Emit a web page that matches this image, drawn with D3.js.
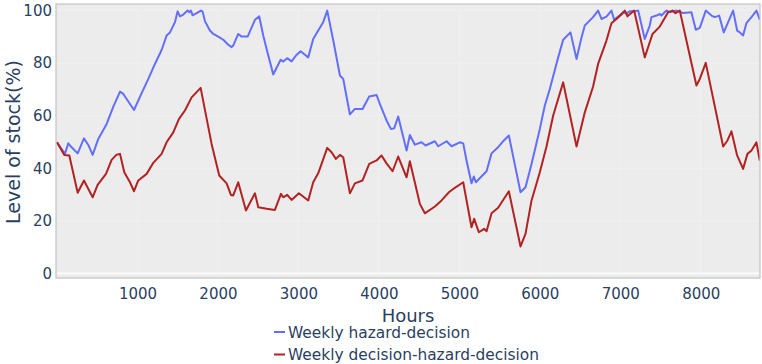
<!DOCTYPE html>
<html>
<head>
<meta charset="utf-8">
<script src="https://cdn.jsdelivr.net/npm/d3@7"></script>
<style>
  html, body { margin: 0; padding: 0; background: #ffffff; }
  svg { display: block; font-family: "DejaVu Sans", Verdana, sans-serif; }
</style>
</head>
<body>
<svg id="chart" width="762" height="364"></svg>
<script>
// ---------- data ----------
const seriesNames = ["Weekly hazard-decision", "Weekly decision-hazard-decision"];
const seriesColors = ["#636efa", "#b22222"];

const hazardHours = [0, 99, 140, 182, 257, 335, 389, 443, 513, 617, 700, 783, 824, 957, 1052, 1135, 1217, 1300, 1362, 1404, 1466, 1499, 1528, 1569, 1623, 1644, 1665, 1685, 1735, 1789, 1810, 1838, 1900, 1942, 2004, 2066, 2128, 2170, 2190, 2252, 2294, 2369, 2460, 2513, 2563, 2605, 2687, 2779, 2811, 2861, 2915, 2969, 3027, 3122, 3184, 3246, 3308, 3358, 3433, 3516, 3557, 3640, 3702, 3797, 3880, 3971, 4012, 4095, 4149, 4190, 4240, 4344, 4385, 4447, 4530, 4580, 4696, 4737, 4841, 4903, 5006, 5048, 5089, 5151, 5180, 5205, 5338, 5400, 5474, 5532, 5615, 5760, 5822, 5897, 6000, 6062, 6124, 6228, 6290, 6381, 6456, 6518, 6559, 6600, 6662, 6724, 6766, 6828, 6890, 6923, 6973, 7035, 7077, 7118, 7180, 7222, 7304, 7366, 7387, 7450, 7491, 7511, 7574, 7615, 7698, 7781, 7884, 7938, 7988, 8062, 8133, 8174, 8228, 8286, 8340, 8402, 8452, 8485, 8526, 8567, 8630, 8692, 8733];
const hazardValues = [49.9, 45.5, 49.5, 48.0, 45.7, 51.4, 48.9, 45.1, 51.2, 56.9, 63.5, 69.2, 68.3, 62.2, 68.6, 74.0, 79.7, 85.0, 90.5, 91.7, 95.6, 99.7, 97.8, 98.5, 100, 99.4, 100, 98.2, 99.0, 100, 99.6, 96.0, 92.4, 91.1, 90.1, 88.9, 87.0, 86.1, 86.7, 91.1, 90.1, 90.1, 96.5, 97.8, 90.5, 85.4, 75.7, 81.3, 80.6, 81.9, 80.7, 82.9, 84.5, 82.2, 89.2, 92.4, 95.6, 100, 88.6, 75.3, 74.0, 60.5, 62.6, 62.6, 67.3, 67.9, 64.5, 58.2, 55.0, 55.2, 59.7, 46.8, 52.7, 49.0, 49.9, 48.7, 50.3, 48.4, 50.3, 48.4, 49.9, 49.5, 43.0, 34.3, 36.9, 34.7, 38.9, 45.7, 47.8, 49.9, 52.5, 30.9, 32.8, 41.7, 55.0, 63.9, 70.2, 82.2, 88.9, 91.7, 81.6, 89.8, 94.3, 95.6, 97.5, 100, 96.8, 97.7, 100, 96.5, 97.7, 99.4, 98.9, 99.7, 99.7, 100, 89.2, 94.3, 97.5, 98.1, 98.7, 98.1, 100, 99.4, 100, 99.1, 99.4, 92.7, 93.4, 100, 98.1, 97.5, 98.1, 91.7, 95.6, 100, 92.4, 91.7, 90.5, 95.2, 97.5, 100, 96.5];

const dhdHours = [0, 91, 153, 257, 335, 443, 505, 609, 679, 741, 783, 836, 907, 957, 1010, 1114, 1197, 1300, 1362, 1445, 1516, 1590, 1673, 1785, 1921, 2016, 2108, 2161, 2190, 2252, 2348, 2460, 2501, 2605, 2708, 2783, 2811, 2861, 2915, 3006, 3122, 3184, 3246, 3358, 3412, 3466, 3516, 3557, 3640, 3702, 3797, 3880, 3971, 4033, 4095, 4170, 4240, 4344, 4385, 4509, 4571, 4696, 4779, 4870, 4944, 5048, 5151, 5184, 5242, 5308, 5338, 5400, 5482, 5615, 5760, 5822, 5897, 6000, 6083, 6166, 6290, 6456, 6559, 6662, 6724, 6828, 6890, 6952, 7014, 7056, 7089, 7172, 7304, 7400, 7491, 7594, 7650, 7685, 7739, 7946, 7988, 8062, 8278, 8332, 8381, 8452, 8526, 8580, 8630, 8692, 8733];
const dhdValues = [49.9, 45.1, 44.9, 30.7, 35.4, 29.0, 33.7, 37.9, 43.2, 45.2, 45.5, 38.5, 34.7, 31.3, 35.4, 37.9, 42.1, 45.5, 49.9, 53.7, 58.8, 62.0, 67.0, 70.6, 49.3, 37.3, 34.3, 29.9, 29.7, 34.7, 24.0, 30.5, 25.2, 24.6, 24.2, 30.3, 29.0, 29.9, 28.0, 30.5, 27.8, 34.7, 38.1, 47.8, 46.1, 43.6, 45.1, 44.2, 30.5, 34.3, 35.4, 41.7, 43.0, 44.9, 41.9, 38.9, 44.5, 36.6, 42.7, 26.5, 22.9, 25.5, 27.8, 30.9, 32.6, 34.7, 17.6, 20.8, 15.7, 17.0, 16.1, 22.9, 25.0, 31.3, 10.3, 15.1, 27.8, 38.5, 48.3, 60.1, 72.7, 48.3, 61.3, 71.1, 79.7, 88.6, 95.2, 96.8, 98.5, 100, 97.8, 100, 82.2, 91.1, 93.9, 99.4, 100, 99.0, 100, 71.5, 74.0, 80.1, 48.3, 50.6, 54.1, 44.9, 39.8, 45.5, 46.8, 49.9, 43.0];

const xTickValues = [1000, 2000, 3000, 4000, 5000, 6000, 7000, 8000];
const yTickValues = [0, 20, 40, 60, 80, 100];
const xTitle = "Hours";
const yTitle = "Level of stock(%)";

// ---------- layout ----------
const svg = d3.select("#chart");
const plot = { left: 56, top: 4, right: 760, bottom: 278 };
const textColor = "#2a3f5f";
const fontFamily = "'DejaVu Sans', Verdana, sans-serif";

const x = d3.scaleLinear().domain([0, 8736]).range([plot.left + 1, plot.right]);
const y = d3.scaleLinear().domain([-1.7, 102.5]).range([plot.bottom, plot.top]);

// background
svg.append("rect")
  .attr("x", plot.left).attr("y", plot.top)
  .attr("width", plot.right - plot.left).attr("height", plot.bottom - plot.top)
  .attr("fill", "#ececec");

// grid
const grid = svg.append("g");
grid.selectAll("line.vx").data(xTickValues).join("line")
  .attr("x1", d => x(d)).attr("x2", d => x(d))
  .attr("y1", plot.top).attr("y2", plot.bottom)
  .attr("stroke", "#f0f0f0").attr("stroke-width", 1);
grid.selectAll("line.hy").data(yTickValues.filter(d => d !== 0)).join("line")
  .attr("x1", plot.left).attr("x2", plot.right)
  .attr("y1", d => y(d)).attr("y2", d => y(d))
  .attr("stroke", "#f0f0f0").attr("stroke-width", 1);
// zero line
svg.append("line")
  .attr("x1", plot.left).attr("x2", plot.right)
  .attr("y1", y(0)).attr("y2", y(0))
  .attr("stroke", "#fafafa").attr("stroke-width", 2);

// lines
svg.append("clipPath").attr("id", "clip").append("rect")
  .attr("x", plot.left).attr("y", plot.top)
  .attr("width", plot.right - plot.left).attr("height", plot.bottom - plot.top);

const series = [
  { hours: hazardHours, values: hazardValues, color: seriesColors[0] },
  { hours: dhdHours, values: dhdValues, color: seriesColors[1] }
];
const line = d3.line().x(d => x(d[0])).y(d => y(d[1]));
series.forEach(s => {
  svg.append("path")
    .datum(s.hours.map((h, i) => [h, s.values[i]]))
    .attr("clip-path", "url(#clip)")
    .attr("fill", "none")
    .attr("stroke", s.color)
    .attr("stroke-width", 2)
    .attr("stroke-linejoin", "round")
    .attr("d", line);
});

// border (mirrored axes)
svg.append("rect")
  .attr("x", plot.left).attr("y", plot.top)
  .attr("width", plot.right - plot.left).attr("height", plot.bottom - plot.top)
  .attr("fill", "none").attr("stroke", "#c4c4c4").attr("stroke-width", 1.2);

// x axis
const xAxis = svg.append("g")
  .attr("transform", `translate(0,${plot.bottom})`)
  .call(d3.axisBottom(x).tickValues(xTickValues).tickSize(0).tickPadding(10.5).tickFormat(d3.format("d")));
xAxis.select(".domain").remove();
xAxis.selectAll("text").attr("fill", textColor).attr("font-size", 15)
  .attr("font-family", fontFamily);

// y axis
const yAxis = svg.append("g")
  .attr("transform", `translate(${plot.left},0)`)
  .call(d3.axisLeft(y).tickValues(yTickValues).tickSize(0).tickPadding(4));
yAxis.select(".domain").remove();
yAxis.selectAll("text").attr("fill", textColor).attr("font-size", 15)
  .attr("font-family", fontFamily);

// titles
svg.append("text")
  .attr("x", 408).attr("y", 321.5)
  .attr("text-anchor", "middle")
  .attr("fill", textColor).attr("font-size", 18)
  .text(xTitle);
svg.append("text")
  .attr("transform", `translate(20,142) rotate(-90)`)
  .attr("text-anchor", "middle")
  .attr("fill", textColor).attr("font-size", 19)
  .text(yTitle);

// legend
const legend = svg.append("g");
seriesNames.forEach((name, i) => {
  const ly = 332 + i * 22.5;
  legend.append("line")
    .attr("x1", 274).attr("x2", 285).attr("y1", ly).attr("y2", ly)
    .attr("stroke", seriesColors[i]).attr("stroke-width", 2);
  legend.append("text")
    .attr("x", 288).attr("y", ly + 5.5)
    .attr("fill", textColor).attr("font-size", 15.4)
    .text(name);
});
</script>
</body>
</html>
